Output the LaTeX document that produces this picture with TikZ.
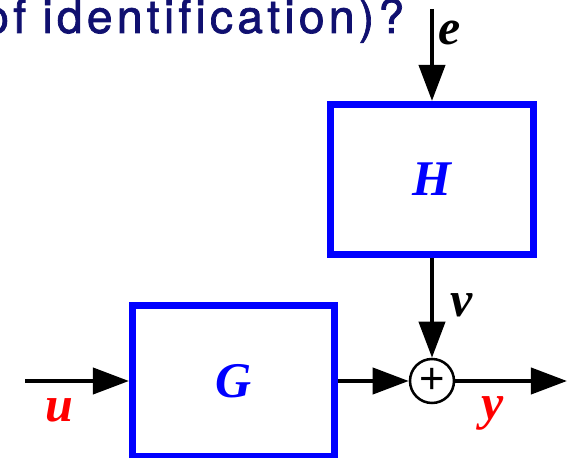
\documentclass[tikz,border=0pt]{standalone}
\usepackage{fontspec}
\setmainfont{Liberation Serif}
\newfontfamily\headfont[LetterSpace=9, Ligatures=NoCommon, FakeBold=1.5]{TeX Gyre Heros}
\newfontfamily\plusfont{Liberation Sans}
\usepackage{xcolor}
\usetikzlibrary{arrows.meta}
\definecolor{navy}{RGB}{16,16,112}

\begin{document}
\begin{tikzpicture}[x=0.025cm, y=-0.025cm,
  blk/.style={rectangle, draw=blue, line width=5pt, minimum width=5.05cm,
              minimum height=3.75cm, text=blue,
              font=\fontsize{35.5}{40}\selectfont\bfseries\itshape},
  sumnode/.style={circle, draw, line width=1.8pt, minimum size=1.1cm,
                  inner sep=0pt, font=\fontsize{31}{31}\selectfont\plusfont},
  sig/.style={font=\fontsize{35.5}{40}\selectfont\bfseries\itshape},
  arrow/.style={-{Triangle[length=0.9cm, width=0.65cm]}, line width=2.85pt}
]
\useasboundingbox (0,0) rectangle (568,458);

%% ---- question text (cut at the left edge) ----
\begin{scope}
  \clip (0,0) rectangle (568,458);
  \node[anchor=base west, inner sep=0pt, text=navy,
        font=\fontsize{33}{35}\selectfont\headfont] at (-17,33) (quest)
        {of\hspace*{0.35em}identification)?};
\end{scope}

%% ---- blocks ----
\node[blk] at (432,179.5) (H) {H};
\node[blk] at (233.5,381) (G) {G};
\node[sumnode] at (432,381) (sum) {+};

%% ---- free ends ----
\coordinate (ein)  at (432,9);
\coordinate (uin)  at (25,381);
\coordinate (yout) at (567,381);

%% ---- arrows ----
\draw[arrow] (ein) -- (H);
\draw[arrow] (H)   -- (sum);
\draw[arrow] (uin) -- (G);
\draw[arrow] (G)   -- (sum);
\draw[arrow] (sum) -- (yout);

%% ---- signal labels ----
\node[sig]           at (450,33)  (elab) {e};
\node[sig]           at (462,305) (vlab) {v};
\node[sig, text=red] at (59,410)  (ulab) {u};
\node[sig, text=red] at (493,413) (ylab) {y};
\end{tikzpicture}
\end{document}
